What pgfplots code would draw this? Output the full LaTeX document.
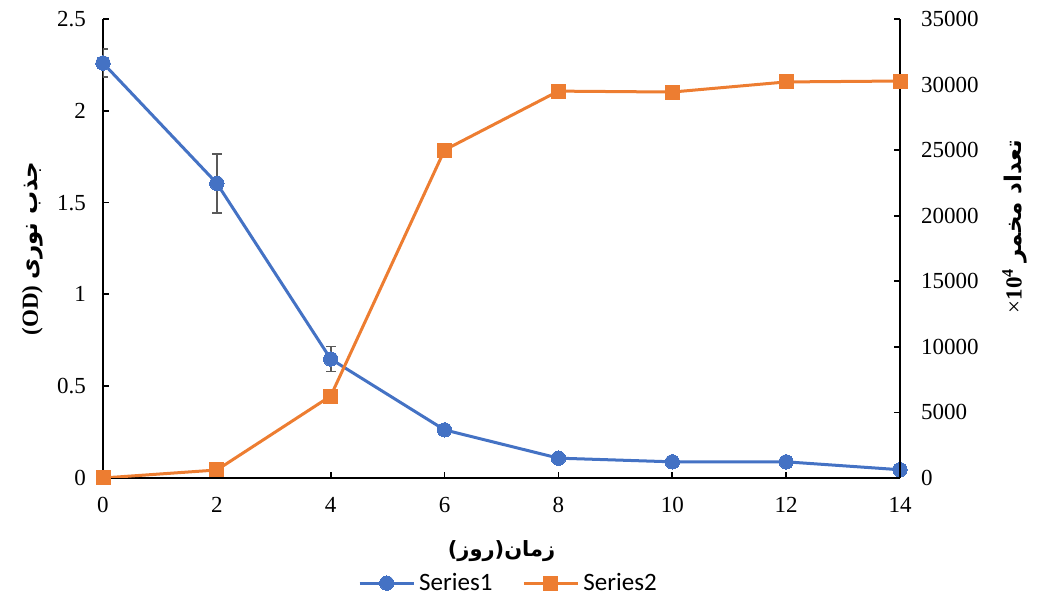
\documentclass[border=0pt]{standalone}
\usepackage{fontspec}
\setmainfont{Liberation Serif}
\newfontfamily\calibri{Carlito}
\newfontfamily\arabicfont[Script=Arabic]{DejaVu Sans}
\TeXXeTstate=1
\usepackage{pgfplots}
\pgfplotsset{compat=1.18}

\definecolor{xlblue}{HTML}{4472C4}
\definecolor{xlorange}{HTML}{ED7D31}
\definecolor{errgray}{HTML}{595959}

\pgfplotsset{
  common/.style={
    width=398.5pt, height=229.5pt, scale only axis,
    xmin=0, xmax=14,
    tick align=inside,
    major tick length=3pt,
    axis line style={line width=0.9pt, black},
    every tick/.style={line width=0.9pt, black},
    tick label style={font=\fontsize{11.5}{13}\selectfont},
    /pgf/number format/assume math mode=true,
    /pgf/number format/1000 sep={},
  },
  s1/.style={xlblue, line width=1.5pt, mark=*, mark size=3.6pt, mark options={fill=xlblue, draw=xlblue, line width=0pt}},
  s2/.style={xlorange, line width=1.5pt, mark=square*, mark size=3.5pt, mark options={fill=xlorange, draw=xlorange, line width=0pt}},
}

\begin{document}
\begin{tikzpicture}
\begin{axis}[
  common,
  axis x line*=bottom, axis y line*=left,
  ymin=0, ymax=2.5,
  xtick={0,2,...,14},
  ytick={0,0.5,1,1.5,2,2.5},
  xticklabel style={yshift=-6pt},
  yticklabel style={xshift=-5pt},
  ylabel={\fontsize{11.5}{13}\selectfont\bfseries (OD) {\arabicfont\beginR جذب نوری\endR}},
  ylabel shift=0pt,
  xlabel={\fontsize{10.5}{13}\selectfont\bfseries\arabicfont\beginR زمان(روز)\endR},
  xlabel shift=7pt,
]
\addplot+[s1, error bars/.cd, y dir=both, y explicit,
  error bar style={errgray, line width=0.9pt},
  error mark options={rotate=90, mark size=2.4pt, errgray, line width=0.9pt}]
  coordinates {
  (0,2.26) +- (0,0.076)
  (2,1.605) +- (0,0.16)
  (4,0.648) +- (0,0.068)
  (6,0.262) +- (0,0.02)
  (8,0.108) +- (0,0)
  (10,0.088) +- (0,0)
  (12,0.088) +- (0,0)
  (14,0.045) +- (0,0)
};
\end{axis}
\begin{axis}[
  common,
  axis y line*=right, axis x line=none,
  ymin=0, ymax=35000,
  ytick={0,5000,...,35000},
  scaled y ticks=false,
  yticklabel style={xshift=7pt},
  ylabel={\fontsize{11.5}{13}\selectfont\bfseries {\mdseries×}10\textsuperscript{4} {\arabicfont\beginR تعداد مخمر\endR}},
  ylabel shift=5pt,
  ylabel style={at={(ticklabel cs:0.548)}},
  legend style={at={(0.51,-0.229)}, anchor=center, draw=none, fill=none,
    legend columns=2, font=\calibri\fontsize{12.5}{14}\selectfont,
    /tikz/every even column/.append style={column sep=13pt}},
  legend image code/.code={\draw[mark repeat=2, mark phase=2, #1] plot coordinates {(0pt,0pt) (13.5pt,0pt) (27pt,0pt)};},
]
\coordinate (bl) at (rel axis cs:0,0);
\coordinate (tr) at (rel axis cs:1,1);
\addlegendimage{s1}
\addlegendentry{Series1}
\addplot+[s2] coordinates {
  (0,0) (2,610) (4,6250) (6,25010) (8,29500) (10,29430) (12,30200) (14,30270)
};
\addlegendentry{Series2}
\end{axis}
\pgfresetboundingbox
\path ([shift={(-51.5pt,-62pt)}]bl) rectangle ([shift={(69pt,9.5pt)}]tr);
\end{tikzpicture}
\end{document}
